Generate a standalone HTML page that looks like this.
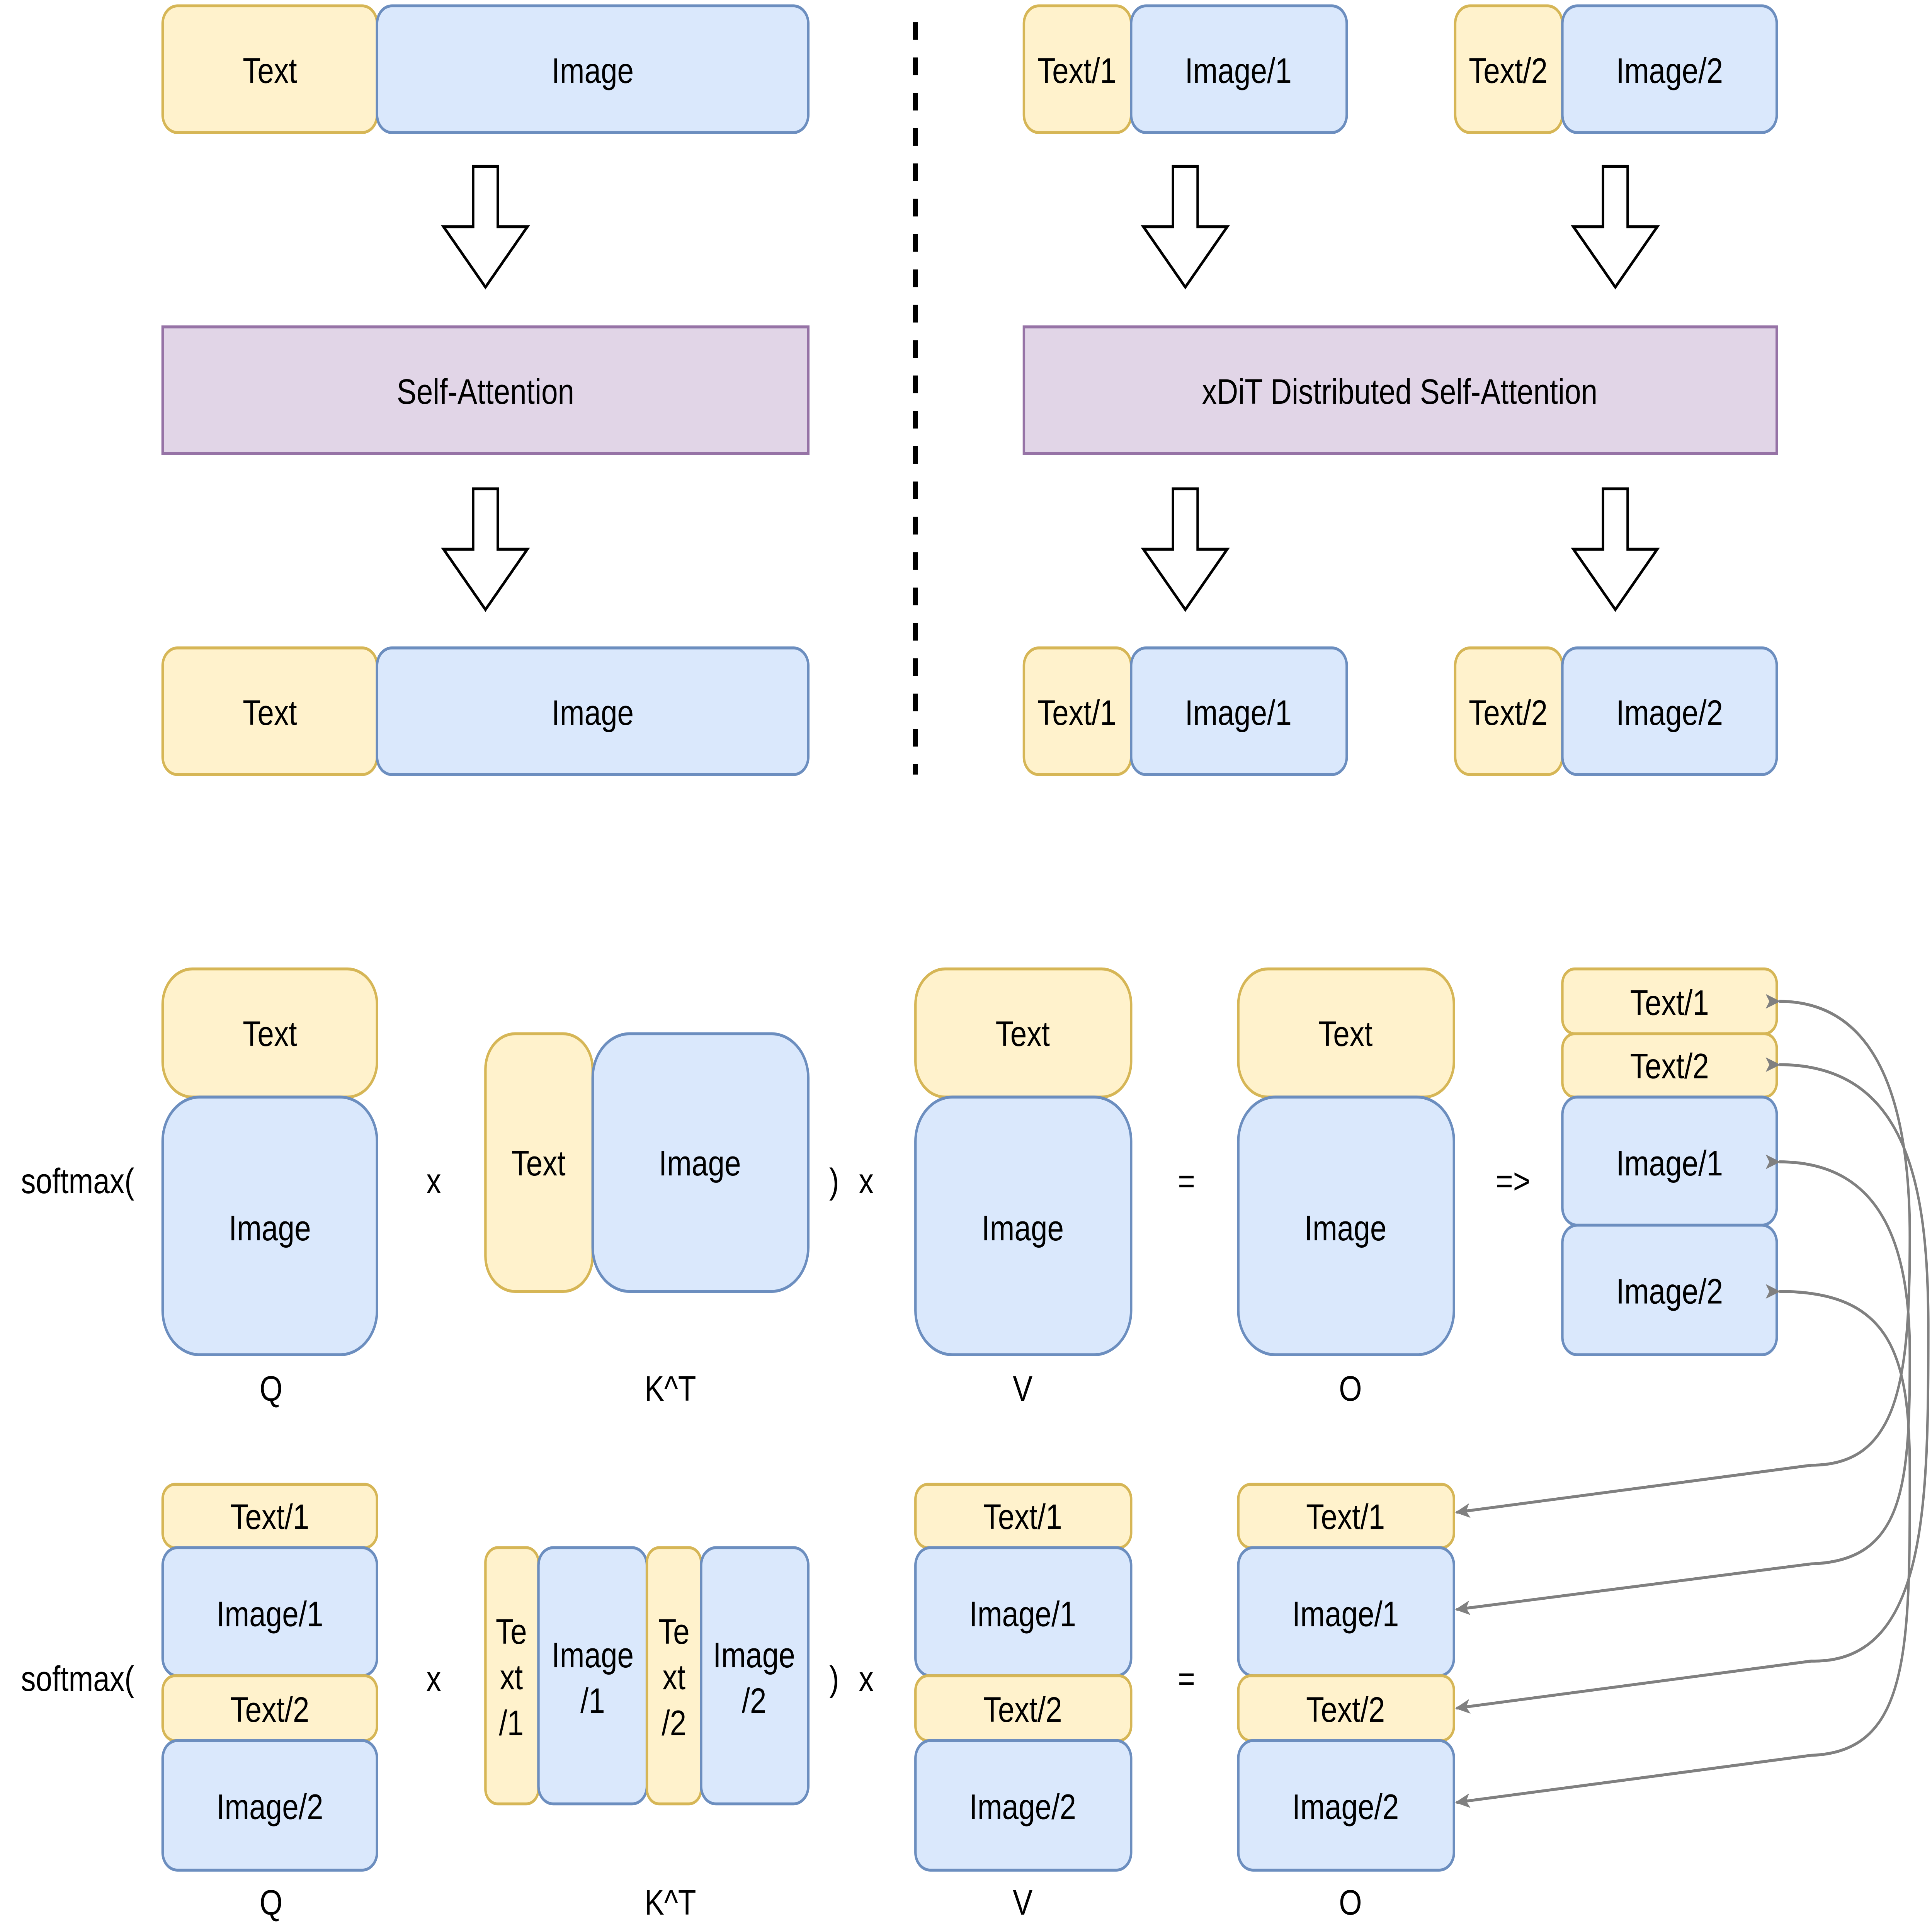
<!DOCTYPE html>
<html><head><meta charset="utf-8"><style>
html,body{margin:0;padding:0;background:#fff;width:100%;height:100%;overflow:hidden;}
svg{display:block;width:100vw;height:100vh;}
text{font-family:"Liberation Sans",Helvetica,Arial,sans-serif;font-size:24px;fill:#000;}
.y{fill:#fff2cc;stroke:#d6b656;stroke-width:2;}
.b{fill:#dae8fc;stroke:#6c8ebf;stroke-width:2;}
.p{fill:#e1d5e7;stroke:#9673a6;stroke-width:2;}
.ar{fill:#fff;stroke:#000;stroke-width:2;}
.c{fill:none;stroke:#808080;stroke-width:2;}
</style></head><body>
<svg viewBox="0 0 1568 1312" preserveAspectRatio="none" xmlns="http://www.w3.org/2000/svg">
<defs>
<marker id="m" markerWidth="12" markerHeight="10" refX="11" refY="5" orient="auto" markerUnits="userSpaceOnUse">
<path d="M0,0 L12,5 L0,10 L3,5 Z" fill="#808080"/></marker>
</defs>
<g text-anchor="middle" dominant-baseline="central">
<rect class="y" x="132" y="4" width="174" height="86" rx="12"/><text x="219" y="48">Text</text>
<rect class="b" x="306" y="4" width="350" height="86" rx="12"/><text x="481" y="48">Image</text>
<path class="ar" transform="translate(359,112)" d="M25,1 L45,1 L45,42 L69,42 L35,83 L1,42 L25,42 Z"/>
<rect class="p" x="132" y="222" width="524" height="86"/><text x="394" y="266">Self-Attention</text>
<path class="ar" transform="translate(359,331)" d="M25,1 L45,1 L45,42 L69,42 L35,83 L1,42 L25,42 Z"/>
<rect class="y" x="132" y="440" width="174" height="86" rx="12"/><text x="219" y="484">Text</text>
<rect class="b" x="306" y="440" width="350" height="86" rx="12"/><text x="481" y="484">Image</text>
<line x1="743" y1="15" x2="743" y2="526" stroke="#000" stroke-width="4" stroke-dasharray="12,12"/>
<rect class="y" x="831" y="4" width="87" height="86" rx="12"/><text x="874" y="48">Text/1</text>
<rect class="b" x="918" y="4" width="175" height="86" rx="12"/><text x="1005" y="48">Image/1</text>
<rect class="y" x="1181" y="4" width="87" height="86" rx="12"/><text x="1224" y="48">Text/2</text>
<rect class="b" x="1268" y="4" width="174" height="86" rx="12"/><text x="1355" y="48">Image/2</text>
<path class="ar" transform="translate(927,112)" d="M25,1 L45,1 L45,42 L69,42 L35,83 L1,42 L25,42 Z"/>
<path class="ar" transform="translate(1276,112)" d="M25,1 L45,1 L45,42 L69,42 L35,83 L1,42 L25,42 Z"/>
<rect class="p" x="831" y="222" width="611" height="86"/><text x="1136" y="266">xDiT Distributed Self-Attention</text>
<path class="ar" transform="translate(927,331)" d="M25,1 L45,1 L45,42 L69,42 L35,83 L1,42 L25,42 Z"/>
<path class="ar" transform="translate(1276,331)" d="M25,1 L45,1 L45,42 L69,42 L35,83 L1,42 L25,42 Z"/>
<rect class="y" x="831" y="440" width="87" height="86" rx="12"/><text x="874" y="484">Text/1</text>
<rect class="b" x="918" y="440" width="175" height="86" rx="12"/><text x="1005" y="484">Image/1</text>
<rect class="y" x="1181" y="440" width="87" height="86" rx="12"/><text x="1224" y="484">Text/2</text>
<rect class="b" x="1268" y="440" width="174" height="86" rx="12"/><text x="1355" y="484">Image/2</text>

<text x="63" y="802">softmax(</text>
<rect class="y" x="132" y="658" width="174" height="87" rx="24"/><text x="219" y="702">Text</text>
<rect class="b" x="132" y="745" width="174" height="175" rx="30"/><text x="219" y="834">Image</text>
<text x="352" y="802">x</text>
<rect class="y" x="394" y="702" width="87" height="175" rx="24"/><text x="437" y="790">Text</text>
<rect class="b" x="481" y="702" width="175" height="175" rx="30"/><text x="568" y="790">Image</text>
<text x="677" y="802">)</text><text x="703" y="802">x</text>
<rect class="y" x="743" y="658" width="175" height="87" rx="24"/><text x="830" y="702">Text</text>
<rect class="b" x="743" y="745" width="175" height="175" rx="30"/><text x="830" y="834">Image</text>
<text x="963" y="802">=</text>
<rect class="y" x="1005" y="658" width="175" height="87" rx="24"/><text x="1092" y="702">Text</text>
<rect class="b" x="1005" y="745" width="175" height="175" rx="30"/><text x="1092" y="834">Image</text>
<text x="1228" y="802">=&gt;</text>
<rect class="y" x="1268" y="658" width="174" height="44" rx="10"/><text x="1355" y="681">Text/1</text>
<rect class="y" x="1268" y="702" width="174" height="43" rx="10"/><text x="1355" y="724">Text/2</text>
<rect class="b" x="1268" y="745" width="174" height="87" rx="12"/><text x="1355" y="790">Image/1</text>
<rect class="b" x="1268" y="832" width="174" height="88" rx="12"/><text x="1355" y="877">Image/2</text>
<text x="220" y="943">Q</text><text x="544" y="943">K^T</text><text x="830" y="943">V</text><text x="1096" y="943">O</text>

<text x="63" y="1140">softmax(</text>
<rect class="y" x="132" y="1008" width="174" height="43" rx="10"/><text x="219" y="1030">Text/1</text>
<rect class="b" x="132" y="1051" width="174" height="87" rx="12"/><text x="219" y="1096">Image/1</text>
<rect class="y" x="132" y="1138" width="174" height="44" rx="10"/><text x="219" y="1161">Text/2</text>
<rect class="b" x="132" y="1182" width="174" height="88" rx="12"/><text x="219" y="1227">Image/2</text>
<text x="352" y="1140">x</text>
<rect class="y" x="394" y="1051" width="43" height="174" rx="10"/>
<text x="415" y="1108">Te</text><text x="415" y="1139">xt</text><text x="415" y="1170">/1</text>
<rect class="b" x="437" y="1051" width="88" height="174" rx="12"/>
<text x="481" y="1124">Image</text><text x="481" y="1155">/1</text>
<rect class="y" x="525" y="1051" width="44" height="174" rx="10"/>
<text x="547" y="1108">Te</text><text x="547" y="1139">xt</text><text x="547" y="1170">/2</text>
<rect class="b" x="569" y="1051" width="87" height="174" rx="12"/>
<text x="612" y="1124">Image</text><text x="612" y="1155">/2</text>
<text x="677" y="1140">)</text><text x="703" y="1140">x</text>
<rect class="y" x="743" y="1008" width="175" height="43" rx="10"/><text x="830" y="1030">Text/1</text>
<rect class="b" x="743" y="1051" width="175" height="87" rx="12"/><text x="830" y="1096">Image/1</text>
<rect class="y" x="743" y="1138" width="175" height="44" rx="10"/><text x="830" y="1161">Text/2</text>
<rect class="b" x="743" y="1182" width="175" height="88" rx="12"/><text x="830" y="1227">Image/2</text>
<text x="963" y="1140">=</text>
<rect class="y" x="1005" y="1008" width="175" height="43" rx="10"/><text x="1092" y="1030">Text/1</text>
<rect class="b" x="1005" y="1051" width="175" height="87" rx="12"/><text x="1092" y="1096">Image/1</text>
<rect class="y" x="1005" y="1138" width="175" height="44" rx="10"/><text x="1092" y="1161">Text/2</text>
<rect class="b" x="1005" y="1182" width="175" height="88" rx="12"/><text x="1092" y="1227">Image/2</text>
<text x="220" y="1292">Q</text><text x="544" y="1292">K^T</text><text x="830" y="1292">V</text><text x="1096" y="1292">O</text>
</g>
<path class="c" marker-start="url(#m)" marker-end="url(#m)" d="M1444,680 C1530,680 1550,760 1550,840 C1550,940 1540,995 1470,995 L1182,1027"/>
<path class="c" marker-start="url(#m)" marker-end="url(#m)" d="M1444,723 C1545,723 1565,800 1565,900 C1565,1020 1565,1130 1470,1128 L1182,1160"/>
<path class="c" marker-start="url(#m)" marker-end="url(#m)" d="M1444,789 C1530,789 1550,850 1550,920 C1550,1010 1545,1060 1470,1062 L1182,1093"/>
<path class="c" marker-start="url(#m)" marker-end="url(#m)" d="M1444,877 C1535,877 1550,920 1550,1000 C1550,1120 1550,1190 1470,1192 L1182,1224"/>
</svg>
</body></html>
